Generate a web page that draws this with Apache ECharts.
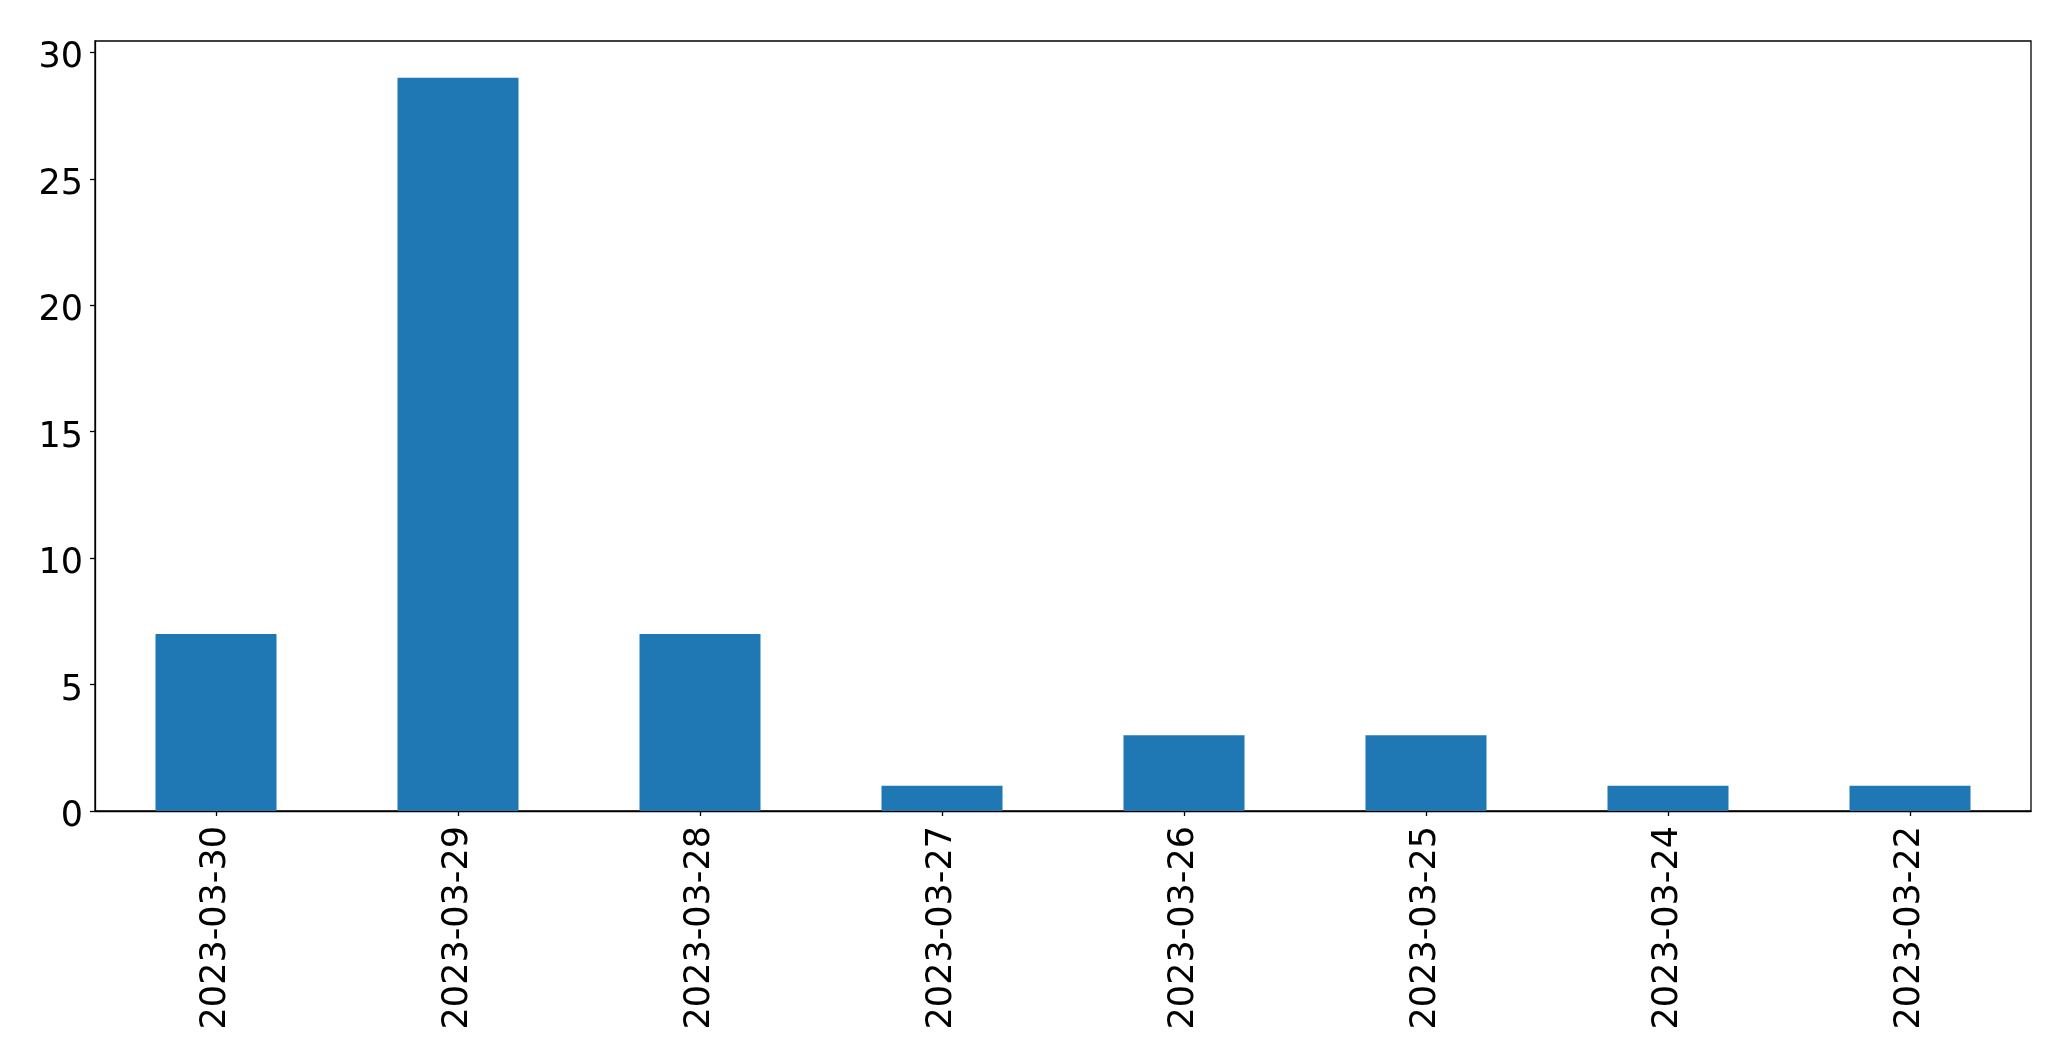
<!DOCTYPE html>
<html>
<head>
<meta charset="utf-8">
<script src="https://cdn.jsdelivr.net/npm/echarts@6/dist/echarts.min.js"></script>
<style>html,body{margin:0;padding:0;background:#fff;}#c{width:2071px;height:1063px;}</style>
</head>
<body>
<div id="c"></div>
<script>
const categories = ['2023-03-30','2023-03-29','2023-03-28','2023-03-27','2023-03-26','2023-03-25','2023-03-24','2023-03-22'];
const values = [7, 29, 7, 1, 3, 3, 1, 1];
const yTicks = [0, 5, 10, 15, 20, 25, 30];

const chart = echarts.init(document.getElementById('c'), null, {renderer: 'canvas'});
chart.setOption({
  animation: false,
  backgroundColor: '#fff',
  grid: {left: 95, right: 40, top: 41, bottom: 252, show: true, borderColor: '#000', borderWidth: 1.3, backgroundColor: 'transparent'},
  xAxis: {
    type: 'category',
    data: categories,
    boundaryGap: true,
    axisLine: {show: true, lineStyle: {color: '#000', width: 1.3}},
    axisTick: {show: true, alignWithLabel: true, length: 5, lineStyle: {color: '#000', width: 1.3}},
    axisLabel: {rotate: 90, fontSize: 35, color: '#000', fontFamily: 'DejaVu Sans', margin: 15, interval: 0}
  },
  yAxis: {
    type: 'value',
    min: 0,
    max: 30.45,
    interval: 5,
    splitLine: {show: false},
    axisLine: {show: true, lineStyle: {color: '#000', width: 1.3}},
    axisTick: {show: true, length: 5, lineStyle: {color: '#000', width: 1.3}},
    axisLabel: {color: '#000', margin: 12, showMaxLabel: false,
      formatter: v => yTicks.includes(v) ? '{a|' + v + '}' : '',
      rich: {a: {fontSize: 35, color: '#000', fontFamily: 'DejaVu Sans', padding: [12, 0, 0, 0]}}}
  },
  series: [{
    type: 'bar',
    data: values,
    barWidth: '50%',
    itemStyle: {color: '#1f77b4'}
  }]
});
</script>
</body>
</html>
